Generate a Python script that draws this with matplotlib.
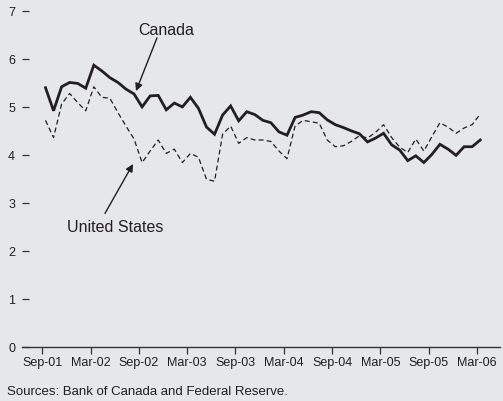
import numpy as np
import matplotlib
matplotlib.use('Agg')
import matplotlib.pyplot as plt

# monthly values, Sep-01 .. Mar-06
canada = [5.40, 4.92, 5.42, 5.51, 5.49, 5.39, 5.87, 5.75, 5.61, 5.51,
          5.37, 5.27, 5.00, 5.23, 5.24, 4.94, 5.08, 5.00, 5.20, 4.97,
          4.58, 4.43, 4.83, 5.02, 4.71, 4.90, 4.84, 4.72, 4.67, 4.48,
          4.41, 4.78, 4.83, 4.90, 4.88, 4.73, 4.63, 4.57, 4.50, 4.44,
          4.27, 4.35, 4.45, 4.21, 4.10, 3.88, 3.98, 3.84, 4.01, 4.22,
          4.12, 3.99, 4.17, 4.17, 4.31]
us = [4.72, 4.36, 5.06, 5.28, 5.09, 4.92, 5.42, 5.20, 5.18, 4.88,
      4.60, 4.33, 3.84, 4.08, 4.31, 4.03, 4.12, 3.84, 4.03, 3.95,
      3.49, 3.45, 4.43, 4.60, 4.24, 4.36, 4.31, 4.31, 4.28, 4.08,
      3.92, 4.60, 4.72, 4.69, 4.66, 4.31, 4.17, 4.19, 4.28, 4.40,
      4.35, 4.47, 4.63, 4.36, 4.16, 4.05, 4.33, 4.08, 4.38, 4.67,
      4.58, 4.45, 4.56, 4.63, 4.85]
tick_labels = ['Sep-01', 'Mar-02', 'Sep-02', 'Mar-03', 'Sep-03',
               'Mar-04', 'Sep-04', 'Mar-05', 'Sep-05', 'Mar-06']

bg = '#e6e7e8'
ink = '#231f20'
plt.rcParams['font.family'] = ['Liberation Sans', 'DejaVu Sans']

fig = plt.figure(figsize=(5.03, 4.02), dpi=100, facecolor=bg)
ax = fig.add_axes([22/503, 54.3/402, 478/503, 340.5/402], facecolor=bg)

x = np.arange(len(canada)) + 0.4  # points sit mid-month
ax.plot(x, us, color=ink, lw=0.9, dashes=(4, 2.5))
ax.plot(x, canada, color=ink, lw=2.0, solid_joinstyle='miter')

ax.set_xlim(-2.52, 56.86)
ax.set_ylim(0, 7.1)

for s in ['top', 'right', 'left']:
    ax.spines[s].set_visible(False)
ax.spines['bottom'].set_color('#333333')
ax.spines['bottom'].set_linewidth(1.0)

ax.set_xticks(np.arange(0, 55, 6))
ax.set_xticklabels(tick_labels)
ax.set_yticks(range(0, 8))
ax.tick_params(axis='x', direction='out', length=5, width=0.9, color='#333333',
               pad=2, labelsize=9, labelcolor=ink)
ax.tick_params(axis='y', direction='in', length=5, width=0.9, color='#333333',
               pad=5, labelsize=9, labelcolor=ink)

arrow = dict(arrowstyle='-|>', color=ink, lw=1.0, mutation_scale=11,
             shrinkA=0, shrinkB=0)
ax.text(15.35, 6.62, 'Canada', ha='center', va='center', fontsize=11.5, color=ink)
ax.annotate('', xy=(11.64, 5.33), xytext=(14.25, 6.44), arrowprops=arrow)
ax.text(9.09, 2.50, 'United States', ha='center', va='center', fontsize=11.5, color=ink)
ax.annotate('', xy=(11.27, 3.81), xytext=(7.79, 2.78), arrowprops=arrow)

fig.text(7/503, 1 - 392/402, 'Sources: Bank of Canada and Federal Reserve.',
         ha='left', va='center', fontsize=9.5, color=ink)

fig.savefig('out.png', dpi=100, facecolor=bg)
